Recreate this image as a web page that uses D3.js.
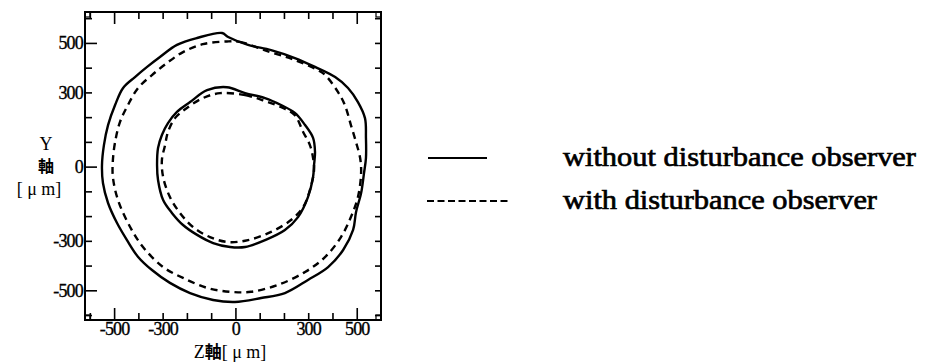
<!DOCTYPE html>
<html>
<head>
<meta charset="utf-8">
<script src="https://cdn.jsdelivr.net/npm/d3@7/dist/d3.min.js"></script>
<style>
  html, body { margin: 0; padding: 0; background: #fff; }
  svg { display: block; }
  .tick text { font-family: "Liberation Serif", "Times New Roman", serif; font-size: 18px; fill: #000; stroke: #000; stroke-width: 0.35px; letter-spacing: -0.8px; }
</style>
</head>
<body>
<svg id="chart" width="926" height="364"></svg>
<script>
// Trajectory traces in the Z-Y plane, [Z, Y] in micrometres
const outerWithout = [
  [-55, 540], [-30, 524], [52, 492], [147, 471], [245, 439], [328, 403], [411, 362], [464, 318],
  [505, 261], [534, 196], [538, 116], [538, 35], [530, -26], [518, -107], [497, -184], [485, -256],
  [444, -337], [382, -406], [299, -458], [204, -511], [106, -531], [-2, -547], [-92, -539], [-187, -511],
  [-270, -470], [-344, -418], [-401, -365], [-447, -297], [-488, -228], [-525, -147], [-546, -66], [-550, 6],
  [-542, 87], [-525, 168], [-496, 249], [-463, 318], [-414, 362], [-364, 403], [-311, 443], [-241, 492],
  [-158, 520]
];
const outerWith = [
  [-35, 506], [19, 504], [143, 463], [245, 431], [340, 390], [370, 370], [423, 301], [451, 249],
  [476, 168], [497, 99], [514, 35], [518, -26], [505, -123], [476, -204], [435, -285], [369, -366],
  [287, -426], [176, -478], [64, -506], [-22, -506], [-117, -490], [-216, -450], [-298, -406], [-381, -325],
  [-434, -244], [-484, -135], [-505, -42], [-505, 27], [-496, 99], [-476, 180], [-443, 249], [-401, 318],
  [-344, 370], [-282, 419], [-216, 463], [-134, 495]
];
const innerWithout = [
  [-35, 321], [40, 297], [122, 277], [188, 249], [245, 217], [287, 168], [320, 116], [328, 59],
  [324, 6], [320, -42], [299, -123], [258, -204], [204, -256], [122, -297], [40, -325], [-22, -325],
  [-92, -309], [-158, -276], [-216, -236], [-261, -188], [-298, -135], [-319, -54], [-323, 6], [-319, 75],
  [-303, 128], [-278, 176], [-241, 221], [-187, 261], [-117, 309]
];
const innerWith = [
  [-63, 297], [40, 289], [122, 265], [196, 237], [245, 208], [279, 140], [307, 87], [320, 35],
  [324, -14], [307, -95], [279, -164], [229, -216], [147, -264], [52, -297], [-30, -305], [-105, -285],
  [-175, -244], [-228, -188], [-270, -123], [-298, -42], [-303, 27], [-290, 87], [-278, 140], [-249, 196],
  [-200, 237], [-134, 277]
];

const zTicks = [-600, -500, -400, -300, -200, -100, 0, 100, 200, 300, 400, 500];
const yTicks = [-600, -500, -400, -300, -200, -100, 0, 100, 200, 300, 400, 500, 600];
const labelledTicks = [-500, -300, 0, 300, 500];
const legendLabels = ["without disturbance observer", "with disturbance observer"];

const svg = d3.select("#chart");
const frameL = 85, frameR = 381, frameT = 12, frameB = 320;

const x = d3.scaleLinear().domain([-620, 600]).range([frameL, frameR]);
const y = d3.scaleLinear().domain([-620, 625]).range([frameB, frameT]);

const fmt = d => labelledTicks.includes(d) ? String(d) : "";
const tickLen = d => (d % 500 === 0 ? 12 : 7);

function styleTicks(g) {
  g.select(".domain").remove();
  g.selectAll(".tick line").attr("stroke", "#000").attr("stroke-width", 1.6);
}

// bottom axis with labels, ticks pointing inward
const gb = svg.append("g").attr("transform", `translate(0,${frameB})`)
  .call(d3.axisBottom(x).tickValues(zTicks).tickFormat(fmt).tickSizeInner(-7).tickSizeOuter(0).tickPadding(2));
gb.call(styleTicks);
gb.selectAll(".tick line").attr("y2", d => -tickLen(d));

// top axis, ticks only
const gt = svg.append("g").attr("transform", `translate(0,${frameT})`)
  .call(d3.axisTop(x).tickValues(zTicks).tickFormat("").tickSizeInner(-7).tickSizeOuter(0));
gt.call(styleTicks);
gt.selectAll(".tick line").attr("y2", d => tickLen(d));

// left axis with labels
const gl = svg.append("g").attr("transform", `translate(${frameL},0)`)
  .call(d3.axisLeft(y).tickValues(yTicks).tickFormat(fmt).tickSizeInner(-7).tickSizeOuter(0).tickPadding(2));
gl.call(styleTicks);
gl.selectAll(".tick line").attr("x2", d => tickLen(d));

// right axis, ticks only
const gr = svg.append("g").attr("transform", `translate(${frameR},0)`)
  .call(d3.axisRight(y).tickValues(yTicks).tickFormat("").tickSizeInner(-6).tickSizeOuter(0));
gr.call(styleTicks);

// frame
svg.append("rect")
  .attr("x", frameL).attr("y", frameT)
  .attr("width", frameR - frameL).attr("height", frameB - frameT)
  .attr("fill", "none").attr("stroke", "#000").attr("stroke-width", 2);

// small corner boxes
[[frameL, frameT], [frameL, frameB - 5], [frameR - 5, frameT], [frameR - 5, frameB - 5]].forEach(([cx, cy]) => {
  svg.append("rect").attr("x", cx).attr("y", cy).attr("width", 5).attr("height", 5)
    .attr("fill", "none").attr("stroke", "#000").attr("stroke-width", 1.2);
});

// traces
const line = d3.line().x(d => x(d[0])).y(d => y(d[1])).curve(d3.curveCatmullRomClosed.alpha(0.5));
const plot = svg.append("g");
[outerWithout, innerWithout].forEach(s => {
  plot.append("path").attr("d", line(s)).attr("fill", "none")
    .attr("stroke", "#000").attr("stroke-width", 2.4).attr("stroke-linejoin", "round");
});
[outerWith, innerWith].forEach(s => {
  plot.append("path").attr("d", line(s)).attr("fill", "none")
    .attr("stroke", "#000").attr("stroke-width", 2.4).attr("stroke-dasharray", "7,5");
});

// axis titles
const serif = '"Liberation Serif", "Times New Roman", serif';
const cjk = '"Noto Sans CJK JP", "Noto Sans CJK SC", sans-serif';

const zt = svg.append("text").attr("x", 230).attr("y", 358).attr("text-anchor", "middle")
  .attr("font-size", 18).attr("fill", "#000");
zt.append("tspan").attr("font-family", serif).text("Z");
zt.append("tspan").attr("font-family", cjk).attr("font-weight", "bold").attr("font-size", 17).text("軸");
zt.append("tspan").attr("font-family", serif).text("[ μ m]");

svg.append("text").attr("x", 46).attr("y", 150).attr("text-anchor", "middle")
  .attr("font-family", serif).attr("font-size", 18).text("Y");
svg.append("text").attr("x", 46).attr("y", 172).attr("text-anchor", "middle")
  .attr("font-family", cjk).attr("font-weight", "bold").attr("font-size", 16).text("軸");
svg.append("text").attr("x", 39).attr("y", 195).attr("text-anchor", "middle")
  .attr("font-family", serif).attr("font-size", 18).text("[ μ m]");

// legend
const legend = svg.append("g");
const rows = [
  { label: legendLabels[0], y: 158, x1: 428, x2: 487, dash: null, width: 353 },
  { label: legendLabels[1], y: 201, x1: 427, x2: 510, dash: "7,3.5", width: 314 }
];
rows.forEach(r => {
  legend.append("line").attr("x1", r.x1).attr("x2", r.x2).attr("y1", r.y).attr("y2", r.y)
    .attr("stroke", "#000").attr("stroke-width", 2.2).attr("stroke-dasharray", r.dash);
  legend.append("text").attr("x", 563).attr("y", r.y + 8)
    .attr("font-family", serif).attr("font-size", 28)
    .attr("stroke", "#000").attr("stroke-width", 0.7)
    .attr("textLength", r.width).attr("lengthAdjust", "spacingAndGlyphs")
    .text(r.label);
});
</script>
</body>
</html>
